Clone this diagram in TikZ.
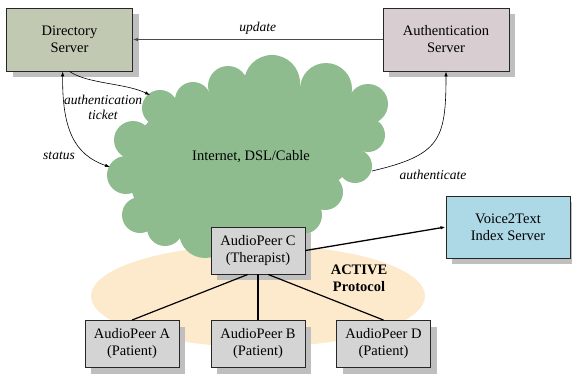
\documentclass[tikz,border=0pt]{standalone}
\usepackage{fontspec}
\setmainfont{Liberation Serif}
\usepackage{tikz}
\usetikzlibrary{positioning, arrows.meta, shadows}
\definecolor{dirgreen}{RGB}{193,201,178}
\definecolor{authmauve}{RGB}{216,205,209}
\definecolor{peergray}{RGB}{212,212,212}
\definecolor{voiceblue}{RGB}{173,216,230}
\definecolor{cloudgreen}{RGB}{143,188,143}
\definecolor{peach}{RGB}{253,234,204}

\begin{document}
\begin{tikzpicture}[x=1pt,y=-1pt,>={Latex[length=5pt,width=3.5pt]},
  box/.style={draw=black!85, line width=0.9pt, align=center, inner sep=0pt,
    font=\fontsize{14.5}{17}\selectfont,
    drop shadow={shadow xshift=6pt,shadow yshift=-6pt,fill=gray!50,opacity=1}},
  server/.style={box, minimum width=126pt, minimum height=63pt},
  peer/.style={box, fill=peergray, minimum width=94pt, minimum height=47pt},
  lbl/.style={font=\fontsize{13.5}{15}\selectfont\itshape},
  link/.style={->, line width=0.6pt}]
  \useasboundingbox (0,0) rectangle (572,373);

  % protocol area and network cloud
  \fill[peach] (258,296) ellipse [x radius=167pt, y radius=51pt];
  \fill[cloudgreen] (160,108) -- (193,100) -- (228,86) -- (272,83) -- (326,89)
    -- (368,104) -- (368,135) -- (355,166) -- (325,192) -- (303,215) -- (275,230)
    -- (240,238) -- (205,232) -- (165,228) -- (140,215) -- (126,175) -- (133,140) -- cycle;
  \foreach \cx/\cy/\r in {160/108/18, 193/100/18, 228/86/20, 272/83/28,
      326/89/26, 368/104/20, 368/135/17, 355/166/17, 325/192/18,
      303/215/19, 275/230/22, 240/238/22, 205/232/26, 165/228/18,
      140/215/18, 126/175/19, 133/140/19}
    \fill[cloudgreen] (\cx,\cy) circle [radius=\r pt];
  \node (net) at (251,157) {\fontsize{14.5}{17}\selectfont Internet, DSL/Cable};
  \coordinate (tkt) at (150,95);
  \coordinate (sts) at (110,167);
  \coordinate (ath) at (372,171);

  \node[server, fill=dirgreen] (dir) at (69.5,39.5) {Directory\\Server};
  \node[server, fill=authmauve] (auth) at (446,39.5) {Authentication\\Server};
  \node[box, fill=voiceblue, minimum width=124pt, minimum height=62pt] (v2t) at (508,227) {Voice2Text\\Index Server};

  \node[peer] (pc) at (258,250.5) {AudioPeer C\\(Therapist)};
  \node[peer] (pa) at (132,344) {AudioPeer A\\(Patient)};
  \node[peer] (pb) at (258,344) {AudioPeer B\\(Patient)};
  \node[peer] (pd) at (383.5,344) {AudioPeer D\\(Patient)};

  \node[font=\fontsize{14.5}{17}\selectfont\bfseries, align=center] (act) at (359,278) {ACTIVE\\Protocol};

  % connectors
  \draw[->, draw=black!70, line width=0.8pt] (auth.west) -- (dir.east) node[lbl, midway, above=1pt] {update};
  \draw[link] (dir.south) .. controls (88,84) and (125,83) .. (tkt);
  \node[lbl, align=center] (tktl) at (103,107) {authentication\\ticket};
  \draw[link, <->] (dir.-102) .. controls (62,130) and (75,155) .. (sts);
  \node[lbl] (stsl) at (59,156) {status};
  \draw[link] (ath) .. controls (440,155) and (446,140) .. (auth.south);
  \node[lbl] (athl) at (433,175) {authenticate};

  \draw[->, line width=1.3pt] (pc.east) -- (v2t.west);
  \draw[line width=1.2pt] (pc.-113) -- (pa.north);
  \draw[line width=1.2pt] (pc.south) -- (pb.north);
  \draw[line width=1.2pt] (pc.-67) -- (pd.north);
\end{tikzpicture}
\end{document}
